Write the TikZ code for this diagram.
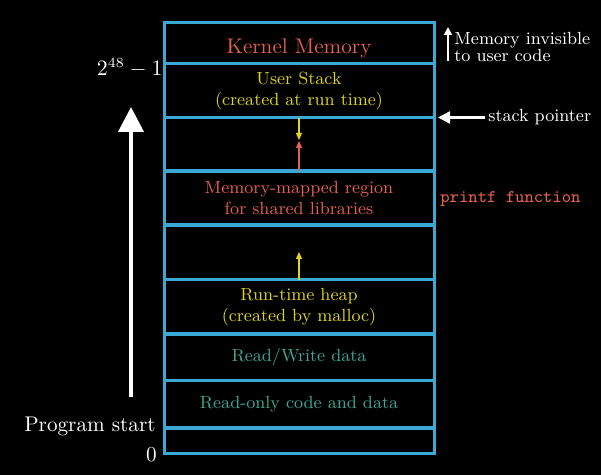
\documentclass[tikz,border=0pt]{standalone}
\usetikzlibrary{arrows.meta}
\definecolor{boxblue}{RGB}{58,170,212}
\definecolor{memred}{RGB}{228,96,80}
\definecolor{stackyellow}{RGB}{222,212,30}
\definecolor{datateal}{RGB}{64,168,144}
\begin{document}
\begin{tikzpicture}[x=0.5pt,y=-0.5pt,
  region/.style={draw=boxblue,line width=1.5pt,minimum width=135pt,inner sep=0pt,
    outer sep=0pt,align=center,font=\fontsize{8.8}{10.5}\selectfont},
  bigtext/.style={white,font=\fontsize{10.6}{12}\selectfont,inner sep=0pt},
  smalltext/.style={white,font=\fontsize{8.8}{7}\selectfont,inner sep=0pt},
  growarrow/.style={line width=0.6pt,-{Triangle[width=3pt,length=3.5pt]}}]
  % background and page size
  \fill[black] (0,0) rectangle (601,475);
  \useasboundingbox (0,0) rectangle (601,475);

  % address-space regions, top to bottom
  \node[region,minimum height=20.5pt,
    label={[memred,font=\fontsize{10.6}{12}\selectfont,yshift=-2.4pt]center:Kernel Memory}]
    (kernel) at (299,43.5) {};
  \node[region,minimum height=27pt,text=stackyellow] (stack) at (299,91)
    {User Stack\\(created at run time)};
  \node[region,minimum height=27pt] (gapa) at (299,145) {};
  \node[region,minimum height=27pt,text=memred] (mmap) at (299,198)
    {Memory-mapped region\\for shared libraries};
  \node[region,minimum height=27pt] (gapb) at (299,253) {};
  \node[region,minimum height=27pt,text=stackyellow] (heap) at (299,307)
    {Run-time heap\\(created by malloc)};
  \node[region,minimum height=23pt,text=datateal] (rw) at (299,357.5) {Read/Write data};
  \node[region,minimum height=24pt,text=datateal] (ro) at (299,404.5) {Read-only code and data};
  \node[region,minimum height=13pt] (low) at (299,441) {};

  % growth directions of stack, mapped region and heap
  \coordinate (stacktip) at (299,140);
  \coordinate (mmaptip) at (299,141);
  \coordinate (heaptip) at (299,252);
  \draw[growarrow,stackyellow] (stack.south) -- (stacktip);
  \draw[growarrow,memred] (mmap.north) -- (mmaptip);
  \draw[growarrow,stackyellow] (heap.north) -- (heaptip);

  % address labels on the left
  \node[bigtext,anchor=east] (top) at (163,68) {$2^{48}-1$};
  \node[bigtext,anchor=east] (start) at (156,426) {Program start};
  \node[bigtext,anchor=east] (zero) at (157,455) {0};

  % rising addresses
  \coordinate (upfrom) at (131,397);
  \coordinate (upto) at (131,107);
  \draw[white,line width=2pt,-{Triangle[width=12.5pt,length=12.5pt]}] (upfrom) -- (upto);

  % notes on the right
  \node[smalltext,anchor=west,align=left] (invisible) at (454,47)
    {Memory invisible\\to user code};
  \coordinate (invfrom) at (448,61);
  \coordinate (invto) at (448,27);
  \draw[white,line width=0.9pt,-{Triangle[width=4pt,length=4pt]}] (invfrom) -- (invto);

  \node[smalltext,anchor=west] (sp) at (488,117.5) {stack pointer};
  \coordinate (sptip) at (438,117.5);
  \draw[white,line width=1.2pt,shorten <=1.5pt,-{Triangle[width=6pt,length=6pt]}]
    (sp.west) -- (sptip);

  \node[anchor=west,inner sep=0pt,memred,font=\fontsize{8.9}{10}\selectfont\ttfamily]
    (printf) at (440,199) {printf function};
\end{tikzpicture}
\end{document}
